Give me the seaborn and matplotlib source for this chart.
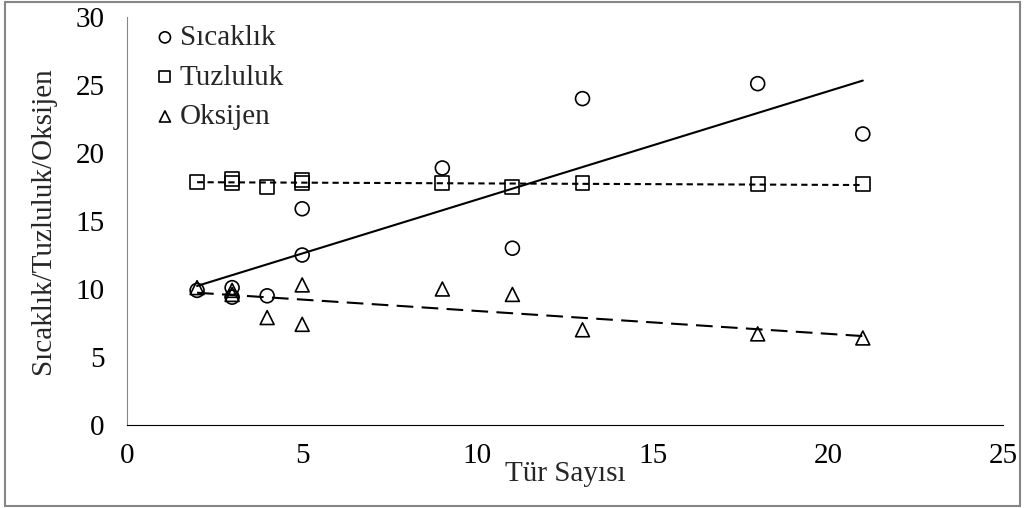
import matplotlib
matplotlib.use("Agg")
import matplotlib.pyplot as plt
import seaborn as sns
import pandas as pd
from matplotlib.patches import Rectangle

# values
tur = [2, 3, 3, 4, 5, 5, 9, 11, 13, 18, 21]
sicaklik = [9.9, 10.1, 9.4, 9.5, 15.9, 12.5, 18.9, 13.0, 24.0, 25.1, 21.4]
tuzluluk = [17.9, 18.1, 17.8, 17.5, 18.0, 17.8, 17.8, 17.5, 17.8, 17.7, 17.7]
oksijen = [10.1, 9.9, 9.6, 7.9, 10.3, 7.4, 10.0, 9.6, 7.0, 6.7, 6.4]

df = pd.DataFrame({'Tür': tur, 'Sıcaklık': sicaklik,
                   'Tuzluluk': tuzluluk, 'Oksijen': oksijen})

sns.set_style("white")
plt.rcParams['font.family'] = ['Liberation Serif', 'DejaVu Serif']

fig = plt.figure(figsize=(10.25, 5.08), dpi=100)
ax = fig.add_axes([0.1239, 0.1634, 0.8546, 0.8031])

series = [('Sıcaklık', 'o', '-'),
          ('Tuzluluk', 's', (0, (3, 2))),
          ('Oksijen', '^', (0, (8, 4)))]

for col, mk, ls in series:
    sns.regplot(x='Tür', y=col, data=df, ax=ax, scatter=False, ci=None,
                color='black', line_kws={'linestyle': ls, 'linewidth': 1.5})
    sns.scatterplot(x='Tür', y=col, data=df, ax=ax, marker=mk, s=100,
                    facecolor='none', edgecolor='black', linewidth=1.2,
                    label=col, zorder=3)

ax.set_xlim(0, 25)
ax.set_ylim(0, 30)
ax.set_xticks([0, 5, 10, 15, 20, 25])
ax.set_yticks([0, 5, 10, 15, 20, 25, 30])
ax.tick_params(axis='both', labelsize=21, length=6, direction='out',
               colors='#7f7f7f', labelcolor='black')
ax.tick_params(axis='x', pad=7)
ax.tick_params(axis='y', pad=10)

sns.despine(ax=ax)
ax.spines['left'].set_color('#868686')
ax.spines['bottom'].set_color('black')

ax.set_xlabel('Tür Sayısı', fontsize=21, labelpad=-6)
ax.set_ylabel('Sıcaklık/Tuzluluk/Oksijen', fontsize=21, labelpad=14)

ax.legend(loc='upper left', bbox_to_anchor=(0.02, 1.01), frameon=False,
          fontsize=21, markerscale=0.8, handlelength=0.6, handletextpad=0.2,
          labelspacing=0.45, borderaxespad=0)

fig.patches.append(Rectangle((0.005, 0.003), 0.99, 0.994, transform=fig.transFigure,
                             fill=False, edgecolor='#868686', linewidth=1.5))

fig.savefig('out.png', dpi=100)
